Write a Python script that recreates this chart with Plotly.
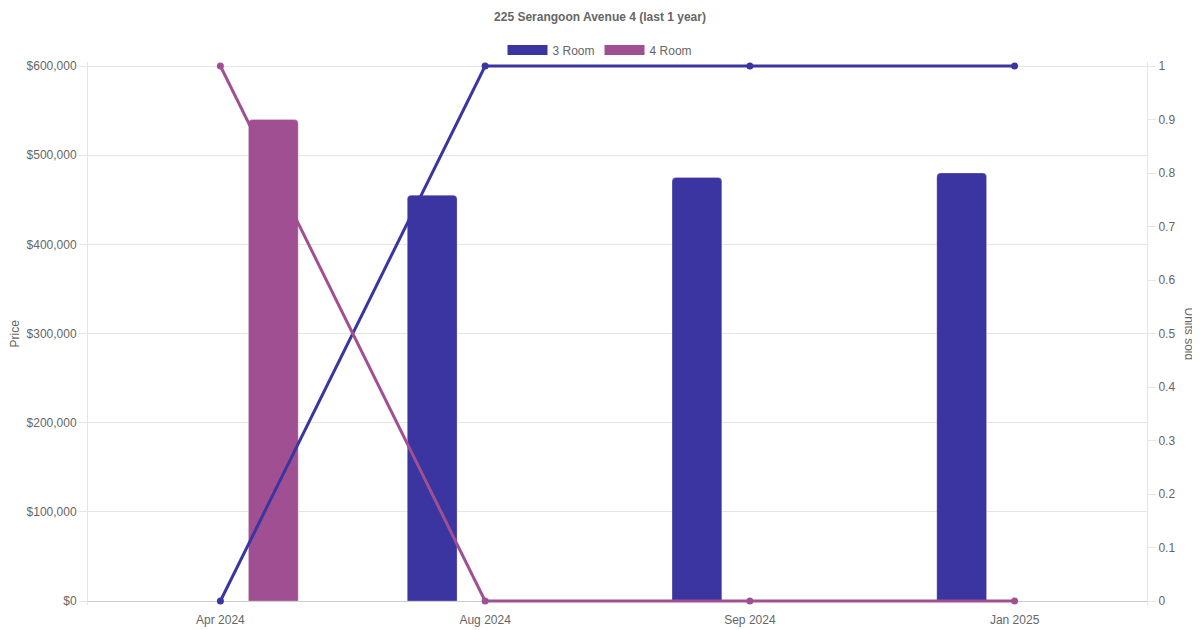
import plotly.graph_objects as go

months = ["Apr 2024", "Aug 2024", "Sep 2024", "Jan 2025"]
price_3room = [None, 455000, 475000, 480000]
price_4room = [540000, None, None, None]
units_3room = [0, 1, 1, 1]
units_4room = [1, 0, 0, 0]
price_ticks = [0, 100000, 200000, 300000, 400000, 500000, 600000]

c3 = "#3a35a0"
c4 = "#a05092"
font = "Liberation Sans, Arial, sans-serif"

W, H = 1200, 630
# page body adds an 8px offset, so margins are shifted by that amount.
# plot area is padded a few px so the lines at 0 and 1 are not clipped
PAD = 4
L, R, T, B = 80, 61, 58 - PAD, 37 - PAD
inner = H - 58 - 37
y_pad = 600000 * PAD / inner
y2_pad = 1 * PAD / inner

fig = go.Figure()

# bars: price on left axis
fig.add_trace(go.Bar(x=months, y=price_3room, name="3 Room", marker=dict(color=c3, cornerradius=4,
                     line=dict(color="rgba(255,255,255,0.25)", width=1)), showlegend=False))
fig.add_trace(go.Bar(x=months, y=price_4room, name="4 Room", marker=dict(color=c4, cornerradius=4,
                     line=dict(color="rgba(255,255,255,0.25)", width=1)), showlegend=False))

# lines: units sold on right axis
fig.add_trace(go.Scatter(x=months, y=units_3room, yaxis="y2", mode="lines+markers", name="3 Room",
                         line=dict(color=c3, width=3), marker=dict(size=7, color=c3),
                         cliponaxis=False, showlegend=False))
fig.add_trace(go.Scatter(x=months, y=units_4room, yaxis="y2", mode="lines+markers", name="4 Room",
                         line=dict(color=c4, width=3), marker=dict(size=7, color=c4),
                         cliponaxis=False, showlegend=False))

# legend swatches
for name, col in [("3 Room", c3), ("4 Room", c4)]:
    fig.add_trace(go.Scatter(x=[None], y=[None], mode="lines", name=name,
                             line=dict(color=col, width=12)))

plot_w = W - L - R
plot_h = H - T - B
fig.update_layout(
    width=W, height=H,
    margin=dict(l=L, r=R, t=T, b=B, autoexpand=False),
    paper_bgcolor="white", plot_bgcolor="white",
    font=dict(family=font, size=12, color="#666"),
    title=dict(text="<b>225 Serangoon Avenue 4 (last 1 year)</b>", x=592 / W, xanchor="center",
               xref="container", y=1 - 9 / H, yref="container", yanchor="middle",
               font=dict(size=12, color="#666"), automargin=False),
    legend=dict(orientation="h", x=(592 - L) / plot_w, xanchor="center",
                y=1 + (16 - PAD) / plot_h, yanchor="middle", bgcolor="rgba(0,0,0,0)",
                font=dict(size=12, color="#666"), itemwidth=40, traceorder="normal"),
    barmode="group", bargap=0.2, bargroupgap=0.53,
    xaxis=dict(type="category", range=[-0.5, 3.5], showgrid=False, showline=False,
               ticks="outside", ticklen=8 - PAD, tickcolor="rgba(0,0,0,0)",
               tickfont=dict(size=12), automargin=False),
    yaxis=dict(range=[-y_pad, 600000 + y_pad], tickvals=price_ticks,
               ticktext=[f"${v:,}" for v in price_ticks],
               automargin=False, gridcolor="#e5e5e5",
               showline=True, linecolor="#e5e5e5", ticks="outside", ticklen=8, tickcolor="#e5e5e5",
               zeroline=True, zerolinecolor="#ccc", zerolinewidth=1),
    yaxis2=dict(overlaying="y", side="right", automargin=False,
                range=[-y2_pad, 1 + y2_pad], tick0=0, dtick=0.1, showgrid=False, showline=True,
                linecolor="#e5e5e5", ticks="outside", ticklen=8, tickcolor="#e5e5e5",
                zeroline=False),
    annotations=[
        dict(text="Price", x=(6 - L) / plot_w, xref="paper", xanchor="center", y=0.5,
             yref="paper", textangle=-90, showarrow=False, font=dict(size=12, color="#666")),
        dict(text="Units sold", x=(1181 - L) / plot_w, xref="paper", xanchor="center", y=0.5,
             yref="paper", textangle=90, showarrow=False, font=dict(size=12, color="#666")),
    ],
)

fig.write_html("out.html")
